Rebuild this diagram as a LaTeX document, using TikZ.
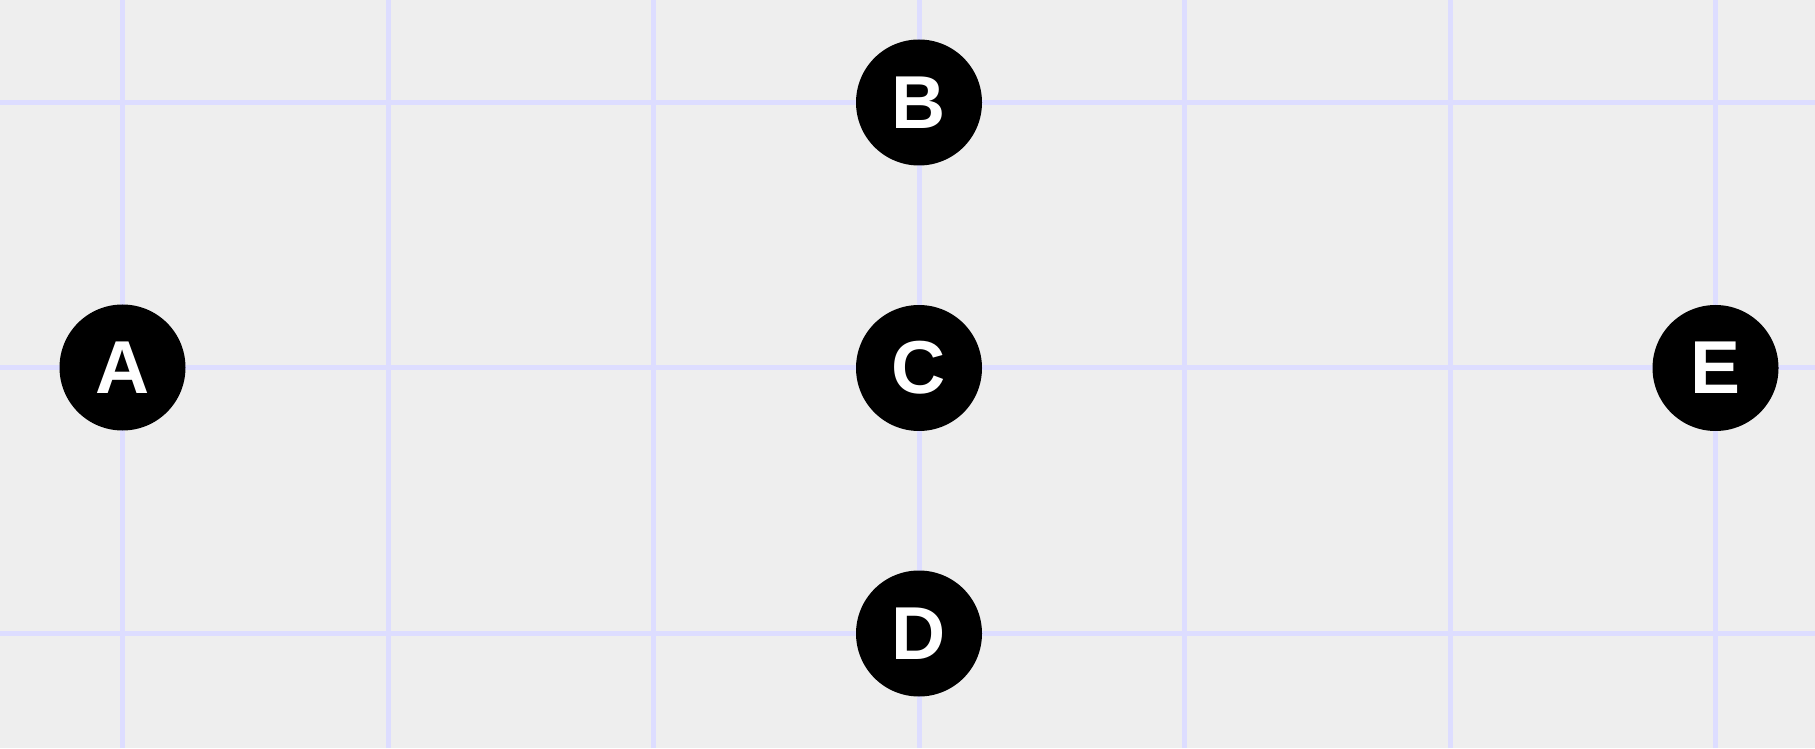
\documentclass[tikz,border=0pt]{standalone}
\usepackage{fontspec}
\setmainfont{Liberation Sans}
\definecolor{bg}{RGB}{238,238,238}
\definecolor{gridc}{RGB}{221,221,255}
\begin{document}
\begin{tikzpicture}[x=1pt,y=1pt,
  dot/.style={circle,fill=black,minimum size=126pt,inner sep=0pt,text=white,font=\fontsize{75}{75}\selectfont\bfseries},
  gridline/.style={draw=gridc,line width=5pt}]
\useasboundingbox (0,0) rectangle (1815,748);
\fill[bg] (0,0) rectangle (1815,748);
\foreach \k in {0,...,6} {
  \draw[gridline] ({122.5+265.5*\k},0) -- ({122.5+265.5*\k},748);
}
\foreach \k in {0,1,2} {
  \draw[gridline] (0,{645.5-265.5*\k}) -- (1815,{645.5-265.5*\k});
}
\node[dot] (A) at (122.5,380.5) {A};
\node[dot] (B) at (919,645.5) {B};
\node[dot] (C) at (919,380) {C};
\node[dot] (D) at (919,114.5) {D};
\node[dot] (E) at (1715.5,380) {E};
\end{tikzpicture}
\end{document}
